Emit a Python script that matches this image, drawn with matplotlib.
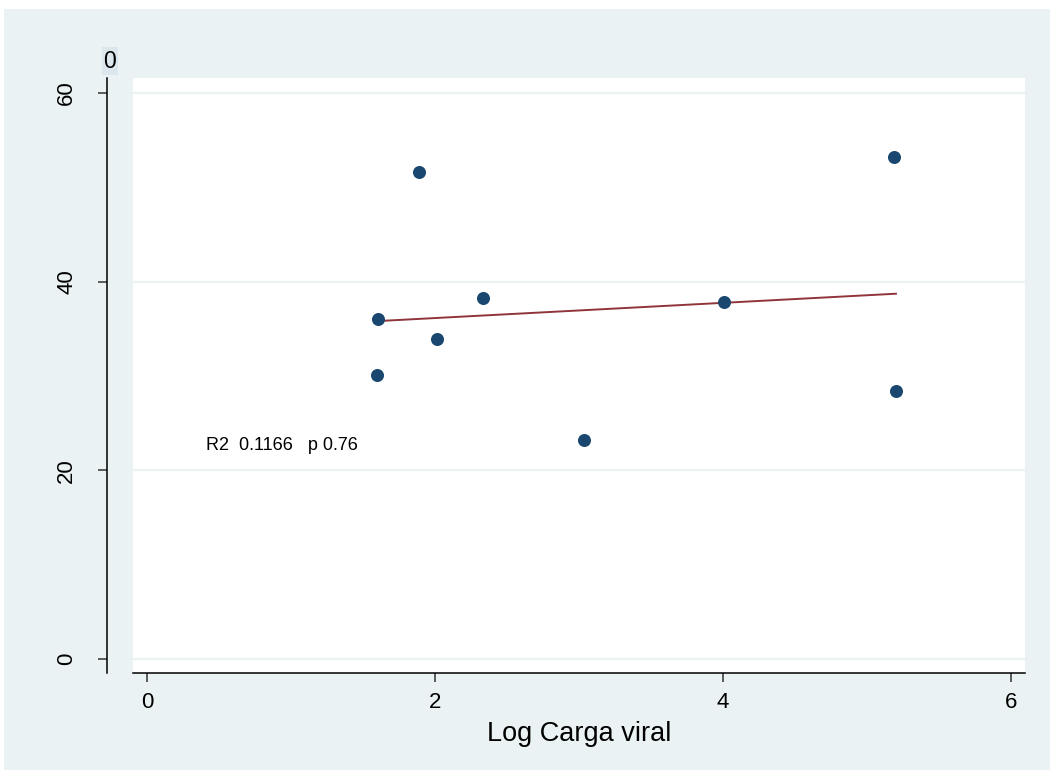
import matplotlib
matplotlib.use('Agg')
import matplotlib.pyplot as plt
from matplotlib.patches import Rectangle
import numpy as np

# carga viral (log) vs. outcome
log_carga = [1.604, 1.597, 1.889, 2.014, 2.333, 3.035, 4.007, 5.188, 5.201]
valores = [36.0, 30.1, 51.6, 33.9, 38.3, 23.2, 37.8, 53.2, 28.4]
x_ticks = [0, 2, 4, 6]
y_ticks = [0, 20, 40, 60]
texto_fit = 'R2  0.1166   p 0.76'

bg = '#eaf2f3'
navy = '#1a476f'
maroon = '#90353b'

plt.rcParams['font.family'] = ['Liberation Sans', 'DejaVu Sans']

fig = plt.figure(figsize=(10.5, 7.7), dpi=100)
fig.patch.set_facecolor(bg)
# franjas blancas arriba y a la izquierda
fig.patches.append(Rectangle((0, 1 - 9 / 770), 1, 9 / 770, transform=fig.transFigure,
                             facecolor='white', edgecolor='none', zorder=-1))
fig.patches.append(Rectangle((0, 0), 4 / 1050, 1, transform=fig.transFigure,
                             facecolor='white', edgecolor='none', zorder=-1))

ax = fig.add_axes([133 / 1050, 97 / 770, 892 / 1050, 595 / 770])
ax.set_facecolor('white')

ax.scatter(log_carga, valores, s=88, color=navy, zorder=3, linewidths=0)

# recta de regresion
x = np.array(log_carga)
b, a = np.polyfit(x, np.array(valores), 1)
xs = np.array([x.min(), x.max()])
ax.plot(xs, a + b * xs, color=maroon, lw=1.4, zorder=2)

ax.text(0.41, 22.6, texto_fit, fontsize=13, ha='left', va='center')

ax.set_xlim(-0.097, 6.097)
ax.set_ylim(-1.48, 61.6)
ax.set_xticks(x_ticks)
ax.set_yticks(y_ticks)
ax.grid(axis='y', color=bg, lw=1.6)
ax.set_axisbelow(True)

for s in ['top', 'right']:
    ax.spines[s].set_visible(False)
ax.spines['left'].set_position(('outward', 18.7))
ax.spines['left'].set_linewidth(1.1)
ax.spines['bottom'].set_linewidth(1.1)
ax.tick_params(axis='both', length=6.5, width=1.1, labelsize=16, color='#333333')
ax.tick_params(axis='y', pad=15, labelrotation=90)
for lbl in ax.get_yticklabels():
    lbl.set_va('center')
ax.tick_params(axis='x', pad=7)

ax.set_xlabel('Log Carga viral', fontsize=19.5, labelpad=6)

fig.text(110 / 1050, 1 - 61 / 770, '0', fontsize=16.5, ha='center', va='center',
         bbox=dict(facecolor='#dbe7ec', edgecolor='none', pad=1.5))

fig.savefig('out.png', dpi=100, facecolor=fig.get_facecolor())
